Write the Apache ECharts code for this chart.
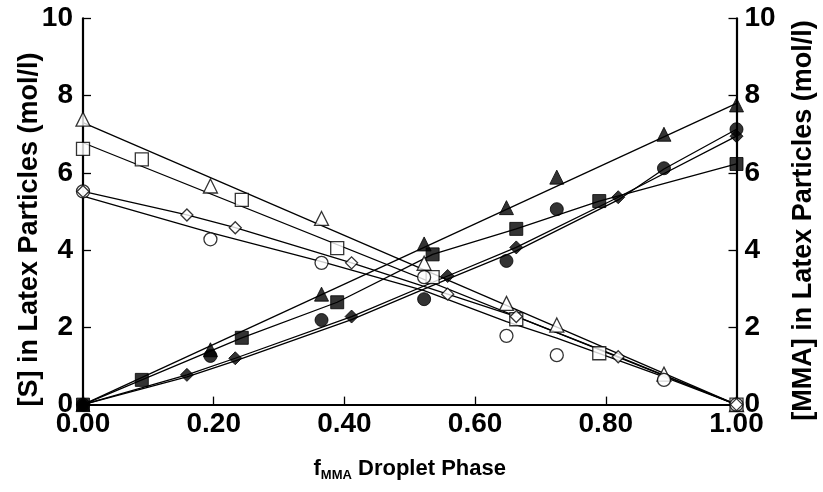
<!DOCTYPE html>
<html>
<head>
<meta charset="utf-8">
<script src="https://cdn.jsdelivr.net/npm/echarts@6/dist/echarts.min.js"></script>
<style>
html,body{margin:0;padding:0;background:#fff;}
#chart{width:823px;height:492px;}
</style>
</head>
<body>
<div id="chart"></div>
<script>
// ---- data ----
// x positions (f_MMA in droplet phase) per marker family
const xTriCirc = [0, 0.195, 0.365, 0.522, 0.648, 0.725, 0.889, 1.0];
const xSquare  = [0, 0.09, 0.243, 0.389, 0.535, 0.663, 0.79, 1.0];
const xDiamond = [0, 0.159, 0.233, 0.411, 0.558, 0.663, 0.819, 1.0];

// [S] in latex particles (open symbols)
const sTriangle = [7.39, 5.66, 4.82, 3.66, 2.62, 2.06, 0.79, 0];
const sSquare   = [6.62, 6.35, 5.30, 4.05, 3.30, 2.21, 1.33, 0];
const sCircle   = [5.52, 4.28, 3.67, 3.30, 1.78, 1.28, 0.64, 0];
const sDiamond  = [5.52, 4.91, 4.58, 3.67, 2.86, 2.28, 1.24, 0];

// [MMA] in latex particles (filled symbols)
const mTriangle = [0, 1.42, 2.86, 4.16, 5.10, 5.89, 7.00, 7.76];
const mSquare   = [0, 0.64, 1.73, 2.65, 3.89, 4.55, 5.27, 6.23];
const mCircle   = [0, 1.26, 2.19, 2.73, 3.72, 5.06, 6.12, 7.13];
const mDiamond  = [0, 0.77, 1.20, 2.28, 3.33, 4.07, 5.37, 6.95];

// drawn curves (fits)
const fitSTriX = [0, 1];            const fitSTriY = [7.3, 0];
const fitSSqX  = [0, 1];            const fitSSqY  = [6.78, 0];
const fitSCircX = [0, 0.195, 0.365, 0.522, 0.648, 0.725, 0.889, 1];
const fitSCircY = [5.4, 4.45, 3.7, 2.95, 2.15, 1.72, 0.72, 0];
const fitMTriX = [0, 1];            const fitMTriY = [0, 7.8];
const fitMCircX = [0, 0.159, 0.233, 0.411, 0.558, 0.663, 0.819, 0.889, 1];
const fitMCircY = [0, 0.72, 1.13, 2.2, 3.25, 3.98, 5.3, 6.1, 7.13];

const xTicks = [0, 0.2, 0.4, 0.6, 0.8, 1.0];
const yTicks = [0, 2, 4, 6, 8, 10];

function pairs(xs, ys){ return xs.map((x,i)=>[x, ys[i]]); }

const FONT = 'Liberation Sans, Arial, Helvetica, sans-serif';
const LINE = {color:'#000', width:1.3};

function lineSeries(xs, ys, yAxisIndex){
  return {type:'line', data:pairs(xs,ys), yAxisIndex, showSymbol:false, symbol:'none',
          lineStyle:LINE, z:2, silent:true, animation:false};
}
function markSeries(xs, ys, symbol, size, filled, yAxisIndex){
  return {type:'scatter', data:pairs(xs,ys), yAxisIndex, symbol, symbolSize:size, z:5,
          itemStyle: filled ? {color:'#000', borderColor:'#000', borderWidth:1}
                            : {color:'#fff', borderColor:'#000', borderWidth:1.3},
          animation:false};
}

const chart = echarts.init(document.getElementById('chart'), null, {renderer:'canvas'});

const axisCommonY = {
  type:'value', min:0, max:10, interval:2,
  axisLine:{show:true, lineStyle:{color:'#000', width:2.2}},
  axisTick:{show:true, inside:true, length:8, lineStyle:{color:'#000', width:1.3}},
  splitLine:{show:false},
  axisLabel:{color:'#000', fontFamily:FONT, fontWeight:'bold', fontSize:28},
  nameLocation:'middle', nameRotate:90, nameMoveOverlap:false,
  nameTextStyle:{color:'#000', fontFamily:FONT, fontWeight:'bold', fontSize:27, padding:[0,36,0,0]}
};

const option = {
  backgroundColor:'#fff',
  animation:false,
  grid:{left:83, right:86.5, top:18.4, bottom:87.4, containLabel:false, outerBoundsMode:'none'},
  xAxis:{
    type:'value', min:0, max:1, interval:0.2,
    axisLine:{show:true, lineStyle:{color:'#000', width:2.2}},
    axisTick:{show:true, inside:true, length:8, lineStyle:{color:'#000', width:1.3}},
    splitLine:{show:false},
    axisLabel:{color:'#000', fontFamily:FONT, fontWeight:'bold', fontSize:28, margin:6,
               formatter:v=>v.toFixed(2)},
    name:'{f|f}{sub|MMA}{t| Droplet Phase}',
    nameLocation:'middle', nameGap:52, nameMoveOverlap:false,
    nameTextStyle:{color:'#000', fontFamily:FONT, fontWeight:'bold', fontSize:22,
      rich:{
        f:{fontFamily:FONT, fontWeight:'bold', fontSize:22, color:'#000'},
        sub:{fontFamily:FONT, fontWeight:'bold', fontSize:13, color:'#000', padding:[12,0,0,0]},
        t:{fontFamily:FONT, fontWeight:'bold', fontSize:22, color:'#000'}
      }}
  },
  yAxis:[
    Object.assign({}, axisCommonY, {position:'left', name:'[S] in Latex Particles (mol/l)', nameGap:40,
      axisLabel:Object.assign({}, axisCommonY.axisLabel, {margin:10})}),
    Object.assign({}, axisCommonY, {position:'right', name:'[MMA] in Latex Particles (mol/l)', nameGap:54,
      nameTextStyle:Object.assign({}, axisCommonY.nameTextStyle, {padding:[0,18,0,0]}),
      axisLabel:Object.assign({}, axisCommonY.axisLabel, {margin:8})})
  ],
  series:[
    lineSeries(fitSTriX, fitSTriY, 0),
    lineSeries(fitSSqX, fitSSqY, 0),
    lineSeries(fitSCircX, fitSCircY, 0),
    lineSeries(xDiamond, sDiamond, 0),
    lineSeries(fitMTriX, fitMTriY, 1),
    lineSeries(xSquare, mSquare, 1),
    lineSeries(fitMCircX, fitMCircY, 1),
    lineSeries(xDiamond, mDiamond, 1),
    markSeries(xTriCirc, sTriangle, 'triangle', 14, false, 0),
    markSeries(xSquare, sSquare, 'rect', 13, false, 0),
    markSeries(xTriCirc, sCircle, 'circle', 13, false, 0),
    markSeries(xDiamond, sDiamond, 'diamond', 12, false, 0),
    markSeries(xTriCirc, mTriangle, 'triangle', 14, true, 1),
    markSeries(xTriCirc, mCircle, 'circle', 13, true, 1),
    markSeries(xSquare, mSquare, 'rect', 13, true, 1),
    markSeries(xDiamond, mDiamond, 'diamond', 13, true, 1)
  ]
};
chart.setOption(option);
</script>
</body>
</html>
